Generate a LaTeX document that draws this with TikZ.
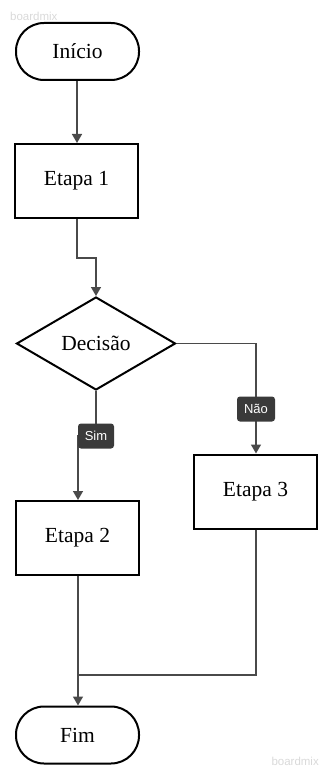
\documentclass[tikz,border=0pt]{standalone}
\usepackage{fontspec}
\setmainfont{Liberation Serif}
\newfontfamily\labelfont{Liberation Sans}
\usetikzlibrary{shapes.geometric,arrows.meta}

\definecolor{connector}{HTML}{4A4A4A}
\definecolor{tagfill}{HTML}{3A3A3A}
\definecolor{watermark}{HTML}{D9D9D9}

\tikzset{
  terminal/.style={draw=black, line width=2pt, fill=white, rounded corners=28pt,
    minimum width=123pt, minimum height=57pt, inner sep=0pt,
    font=\fontsize{21.5}{25}\selectfont},
  stepbox/.style={draw=black, line width=2pt, fill=white,
    minimum width=123pt, minimum height=74pt, inner sep=0pt,
    font=\fontsize{21.5}{25}\selectfont},
  decision/.style={draw=black, line width=2pt, fill=white, diamond,
    minimum width=159pt, minimum height=93pt, inner sep=0pt,
    font=\fontsize{21.5}{25}\selectfont},
  conn/.style={draw=connector, line width=1.4pt,
    -{Triangle[length=9pt,width=10pt]}},
  plain/.style={draw=connector, line width=1.4pt},
  tag/.style={fill=tagfill, text=white, rounded corners=3pt,
    inner sep=0pt, minimum height=25pt, font=\labelfont\fontsize{13}{15}\selectfont},
  mark text/.style={text=watermark, font=\labelfont\fontsize{11.5}{14}\selectfont, inner sep=0pt}
}

\begin{document}
\begin{tikzpicture}[x=1pt, y=-1pt]
  \useasboundingbox (0,0) rectangle (321,767);

  % faint watermarks
  \node[mark text, anchor=base west] (wm1) at (10,21) {boardmix};
  \node[mark text, anchor=base east] (wm2) at (319,765) {boardmix};

  % shapes
  \node[terminal] (ini) at (77.5,51.5) {Início};
  \node[stepbox] (e1) at (76.5,181) {Etapa 1};
  \node[decision] (dec) at (96,343.5) {Decisão};
  \node[stepbox] (e2) at (77.5,538) {Etapa 2};
  \node[stepbox] (e3) at (255.5,491.5) {Etapa 3};
  \node[terminal] (fim) at (77.5,735) {Fim};

  \coordinate (bend1) at (77,258);
  \coordinate (simc) at (96,436);
  \coordinate (nao) at (256,409);
  \coordinate (join) at (78,675);

  % connectors
  \draw[conn] (ini.south -| 77,0) -- (e1.north -| 77,0);
  \draw[conn] (e1.south -| bend1) -- (bend1) -| (dec.north);
  \draw[conn] (dec.south) -- (simc) -| (e2.north -| 78,0);
  \draw[conn] (dec.east) -| (e3.north -| nao);
  \draw[plain] (e3.south -| nao) |- (join);
  \draw[conn] (e2.south -| 78,0) -- (fim.north -| 78,0);

  % branch labels
  \node[tag, minimum width=36pt] (sim) at (simc) {Sim};
  \node[tag, minimum width=38pt] (naotag) at (nao) {Não};
\end{tikzpicture}
\end{document}
